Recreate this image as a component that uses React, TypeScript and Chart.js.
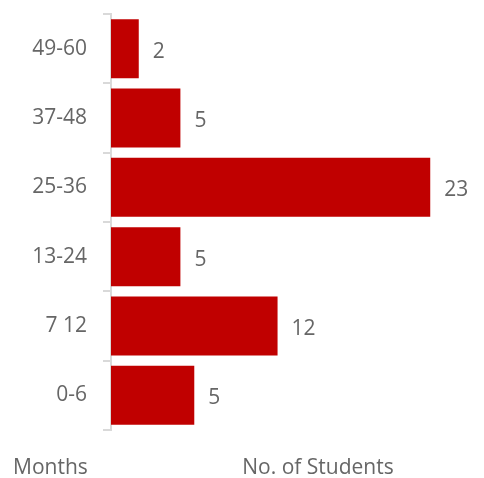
import React, { useEffect, useRef } from "react";
import { Chart, registerables } from "chart.js";

Chart.register(...registerables);

const categories = ["49-60", "37-48", "25-36", "13-24", "7 12", "0-6"];
const barValues = [2, 5, 23, 5, 12, 6];
const valueLabels = ["2", "5", "23", "5", "12", "5"];
const yAxisTitle = "Months";
const xAxisTitle = "No. of Students";

const FONT = "'Open Sans', 'Noto Sans', sans-serif";
const TEXT = "#666666";

export default function App() {
  const ref = useRef<HTMLCanvasElement | null>(null);

  useEffect(() => {
    if (!ref.current) return;
    const labelsPlugin = {
      id: "customLabels",
      afterDatasetsDraw(chart: any) {
        const ctx = chart.ctx;
        const meta = chart.getDatasetMeta(0);
        ctx.save();
        ctx.fillStyle = TEXT;
        ctx.font = `21px ${FONT}`;
        ctx.textBaseline = "middle";
        ctx.textAlign = "left";
        meta.data.forEach((bar: any, i: number) => {
          ctx.fillText(valueLabels[i], bar.x + 14, bar.y + 3);
        });
        ctx.textAlign = "left";
        ctx.fillText(yAxisTitle, 13, 468);
        ctx.textAlign = "center";
        ctx.fillText(xAxisTitle, 318, 468);
        ctx.restore();
      },
    };
    const chart = new Chart(ref.current, {
      type: "bar",
      data: {
        labels: categories,
        datasets: [
          {
            data: barValues,
            backgroundColor: "#C00000",
            barPercentage: 0.85,
            categoryPercentage: 1,
          },
        ],
      },
      options: {
        indexAxis: "y",
        animation: false,
        responsive: false,
        devicePixelRatio: 1,
        layout: { padding: { top: 14, bottom: 48, left: 0, right: 26 } },
        plugins: { legend: { display: false }, tooltip: { enabled: false } },
        scales: {
          x: { display: false, min: 0, max: 25 },
          y: {
            afterFit(scale: any) {
              scale.width = 111;
              scale.paddingTop = 0;
              scale.paddingBottom = 0;
            },
            border: { display: true, color: "#d9d9d9", width: 2 },
            grid: {
              display: true,
              drawOnChartArea: false,
              drawTicks: true,
              tickLength: 8,
              color: "#d9d9d9",
              lineWidth: 2,
              offset: true,
            },
            ticks: {
              color: TEXT,
              padding: 16,
              font: { family: FONT, size: 21 },
            },
          },
        },
      },
      plugins: [labelsPlugin],
    });
    return () => chart.destroy();
  }, []);

  return (
    <div style={{ position: "absolute", left: 0, top: 0, width: 484, height: 478, background: "#fff" }}>
      <canvas ref={ref} width={484} height={478} />
    </div>
  );
}
